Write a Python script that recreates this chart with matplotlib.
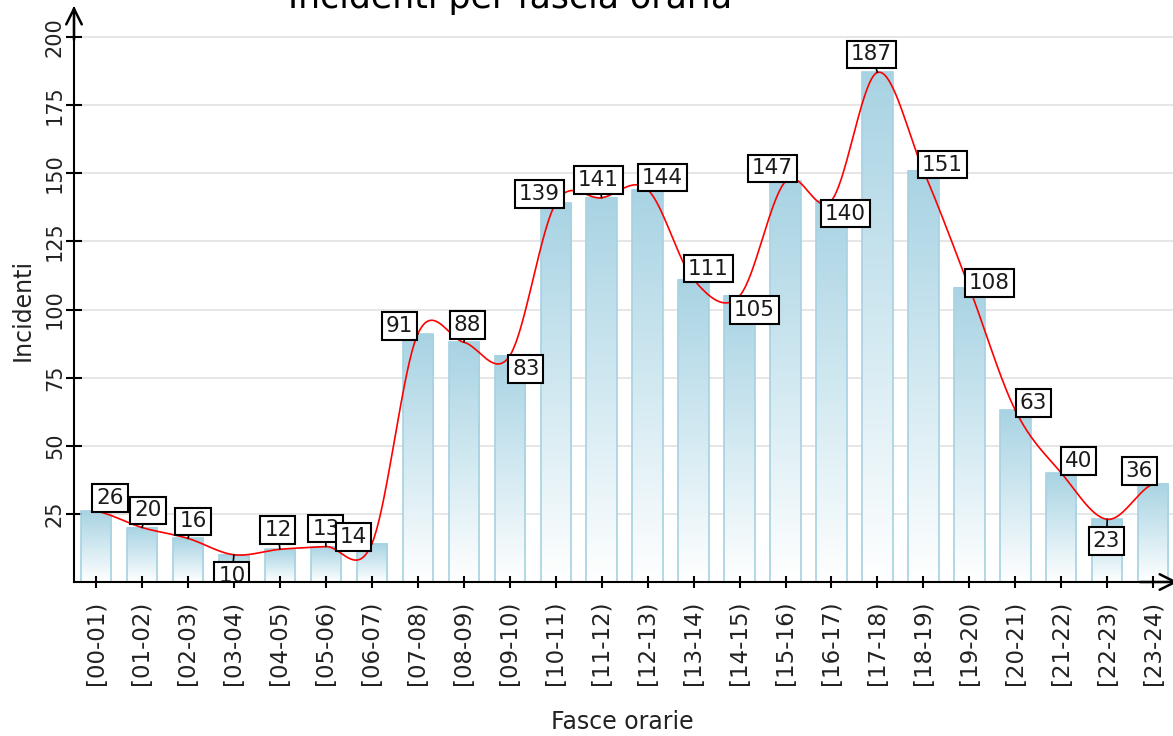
import numpy as np
import matplotlib
matplotlib.use("Agg")
import matplotlib.pyplot as plt
from matplotlib.colors import LinearSegmentedColormap

# ---- data ----
categories = ["[00-01)", "[01-02)", "[02-03)", "[03-04)", "[04-05)", "[05-06)",
              "[06-07)", "[07-08)", "[08-09)", "[09-10)", "[10-11)", "[11-12)",
              "[12-13)", "[13-14)", "[14-15)", "[15-16)", "[16-17)", "[17-18)",
              "[18-19)", "[19-20)", "[20-21)", "[21-22)", "[22-23)", "[23-24)"]
incidenti = [26, 20, 16, 10, 12, 13, 14, 91, 88, 83, 139, 141, 144, 111, 105,
             147, 140, 187, 151, 108, 63, 40, 23, 36]
yticks = [25, 50, 75, 100, 125, 150, 175, 200]

# label box offsets (pixels, relative to data point): dx, dy (up positive)
label_offsets = [(14, 13), (6, 17), (5, 17), (-2, -21), (-2, 19), (0, 18),
                 (-18, 7), (-18, 8), (4, 17), (16, -13), (-16, 9), (-3, 18),
                 (15, 12), (15, 11), (15, -14), (-13, 13), (14, -13), (-6, 18),
                 (19, 6), (20, 5), (18, 7), (17, 12), (-1, -22), (-14, 13)]

W, H = 1173, 736
fig = plt.figure(figsize=(W / 100, H / 100), dpi=100)
fig.patch.set_facecolor("white")

ax_left, ax_bottom_px, ax_top_px = 74, 582, 8
ax = fig.add_axes([ax_left / W, (H - ax_bottom_px) / H,
                   (W - ax_left) / W, (ax_bottom_px - ax_top_px) / H])

n = len(incidenti)
x = np.arange(n)
y = np.array(incidenti, dtype=float)

xmin, xmax = -0.479, 23.43
ymax = (ax_bottom_px - ax_top_px) / 2.725

# grid
for t in yticks:
    ax.axhline(t, color="#e4e4e4", lw=1.3, zorder=0)

# gradient bars
cmap = LinearSegmentedColormap.from_list("g", ["#ffffff", "#d2e9f1", "#a8d3e3"])
grad = np.linspace(0, 1, 256).reshape(-1, 1)
bw = 0.66
for xi, v in zip(x, y):
    ax.imshow(grad, extent=[xi - bw / 2, xi + bw / 2, 0, v], origin="lower",
              aspect="auto", cmap=cmap, zorder=1, interpolation="bilinear")
ax.bar(x, y, width=bw, facecolor="none", edgecolor="#a6d2e2", lw=1.2, zorder=2)

# Catmull-Rom spline through the points
yp = np.concatenate([[y[0]], y, [y[-1]]])
tang = (yp[2:] - yp[:-2]) / 2.0
xs, ys = [], []
for i in range(n - 1):
    u = np.linspace(0, 1, 40)
    h00 = 2 * u**3 - 3 * u**2 + 1
    h10 = u**3 - 2 * u**2 + u
    h01 = -2 * u**3 + 3 * u**2
    h11 = u**3 - u**2
    s = h00 * y[i] + h10 * tang[i] + h01 * y[i + 1] + h11 * tang[i + 1]
    xs.extend(i + u)
    ys.extend(s)
ax.plot(xs, ys, color="red", lw=1.2, zorder=3)

# value labels
for xi, v, (dx, dy) in zip(x, y, label_offsets):
    ax.annotate(f"{int(v)}", xy=(xi, v), xytext=(dx, dy), textcoords="offset pixels",
                ha="center", va="center", fontsize=15.5, color="#1a1a1a",
                bbox=dict(boxstyle="square,pad=0.18", fc="white", ec="black", lw=1.5),
                arrowprops=dict(arrowstyle="-", color="black", lw=1.2,
                                shrinkA=0, shrinkB=0),
                zorder=5, annotation_clip=False, clip_on=True)

ax.set_xlim(xmin, xmax)
ax.set_ylim(0, ymax)

for s in ["top", "right"]:
    ax.spines[s].set_visible(False)
for s in ["left", "bottom"]:
    ax.spines[s].set_linewidth(1.5)
    ax.spines[s].set_color("black")
    ax.spines[s].set_zorder(6)

ax.set_yticks(yticks)
ax.set_xticks(x)
ax.set_xticklabels(categories, rotation=90, fontsize=16.5, color="#222222")
ax.set_yticklabels([str(t) for t in yticks], rotation=90, fontsize=15, color="#222222",
                   va="center")
ax.tick_params(axis="y", direction="inout", length=11, width=1.5, pad=1)
ax.tick_params(axis="x", direction="inout", length=9, width=1.5, pad=9)

fig.text(23 / W, (H - 310) / H, "Incidenti", fontsize=17, color="#222222",
         ha="center", va="center", rotation=90)
fig.text(622 / W, (H - 722) / H, "Fasce orarie", fontsize=17, color="#222222",
         ha="center", va="center")

# axis arrows
ax.annotate("", xy=(ax_left / W, (H - 6) / H), xytext=(ax_left / W, (H - 40) / H),
            xycoords="figure fraction",
            arrowprops=dict(arrowstyle="->", lw=1.8, color="black", mutation_scale=28,
                            shrinkA=0, shrinkB=0), annotation_clip=False)
ax.annotate("", xy=(1178 / W, (H - ax_bottom_px) / H),
            xytext=(1140 / W, (H - ax_bottom_px) / H),
            xycoords="figure fraction",
            arrowprops=dict(arrowstyle="->", lw=1.8, color="black", mutation_scale=28,
                            shrinkA=0, shrinkB=0), annotation_clip=False)

# title (cut at top as in reference)
fig.text(510 / W, (H - 8) / H, "Incidenti per fascia oraria", fontsize=25,
         color="black", ha="center", va="baseline")

fig.savefig("out.png", dpi=100)
